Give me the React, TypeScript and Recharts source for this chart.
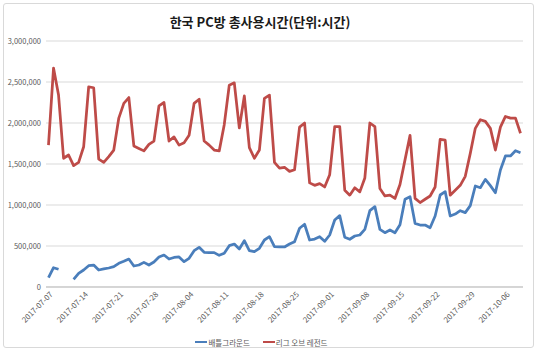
import React from 'react';
import { LineChart, Line, XAxis, YAxis, CartesianGrid, Legend } from 'recharts';

const dates = [
  '2017-07-07', '2017-07-08', '2017-07-09', '2017-07-10', '2017-07-11', '2017-07-12', '2017-07-13',
  '2017-07-14', '2017-07-15', '2017-07-16', '2017-07-17', '2017-07-18', '2017-07-19', '2017-07-20',
  '2017-07-21', '2017-07-22', '2017-07-23', '2017-07-24', '2017-07-25', '2017-07-26', '2017-07-27',
  '2017-07-28', '2017-07-29', '2017-07-30', '2017-07-31', '2017-08-01', '2017-08-02', '2017-08-03',
  '2017-08-04', '2017-08-05', '2017-08-06', '2017-08-07', '2017-08-08', '2017-08-09', '2017-08-10',
  '2017-08-11', '2017-08-12', '2017-08-13', '2017-08-14', '2017-08-15', '2017-08-16', '2017-08-17',
  '2017-08-18', '2017-08-19', '2017-08-20', '2017-08-21', '2017-08-22', '2017-08-23', '2017-08-24',
  '2017-08-25', '2017-08-26', '2017-08-27', '2017-08-28', '2017-08-29', '2017-08-30', '2017-08-31',
  '2017-09-01', '2017-09-02', '2017-09-03', '2017-09-04', '2017-09-05', '2017-09-06', '2017-09-07',
  '2017-09-08', '2017-09-09', '2017-09-10', '2017-09-11', '2017-09-12', '2017-09-13', '2017-09-14',
  '2017-09-15', '2017-09-16', '2017-09-17', '2017-09-18', '2017-09-19', '2017-09-20', '2017-09-21',
  '2017-09-22', '2017-09-23', '2017-09-24', '2017-09-25', '2017-09-26', '2017-09-27', '2017-09-28',
  '2017-09-29', '2017-09-30', '2017-10-01', '2017-10-02', '2017-10-03', '2017-10-04', '2017-10-05',
  '2017-10-06', '2017-10-07', '2017-10-08', '2017-10-09',
];

const battlegrounds: (number | null)[] = [
  113000, 235000, 216000, null, null, 94000, 167000,
  207000, 260000, 268000, 207000, 220000, 232000, 248000,
  289000, 313000, 341000, 256000, 268000, 300000, 268000,
  305000, 365000, 390000, 341000, 360000, 366000, 309000,
  350000, 443000, 484000, 423000, 419000, 419000, 386000,
  411000, 504000, 524000, 463000, 565000, 443000, 431000,
  472000, 573000, 614000, 492000, 488000, 488000, 524000,
  553000, 716000, 765000, 573000, 585000, 614000, 557000,
  634000, 817000, 870000, 606000, 582000, 622000, 634000,
  703000, 931000, 980000, 703000, 662000, 695000, 662000,
  760000, 1070000, 1100000, 776000, 756000, 756000, 723000,
  866000, 1122000, 1163000, 866000, 890000, 931000, 907000,
  992000, 1232000, 1211000, 1313000, 1236000, 1150000, 1427000,
  1598000, 1598000, 1662000, 1638000,
];

const leagueOfLegends: number[] = [
  1730000, 2670000, 2340000, 1570000, 1610000, 1480000, 1520000,
  1710000, 2440000, 2430000, 1560000, 1520000, 1590000, 1670000,
  2060000, 2240000, 2310000, 1720000, 1690000, 1660000, 1740000,
  1780000, 2210000, 2250000, 1780000, 1830000, 1730000, 1760000,
  1850000, 2240000, 2290000, 1780000, 1730000, 1670000, 1660000,
  1980000, 2460000, 2490000, 1940000, 2330000, 1700000, 1570000,
  1670000, 2300000, 2340000, 1520000, 1450000, 1460000, 1410000,
  1430000, 1950000, 2000000, 1270000, 1240000, 1260000, 1220000,
  1370000, 1955000, 1955000, 1180000, 1120000, 1210000, 1160000,
  1330000, 2000000, 1955000, 1200000, 1110000, 1120000, 1080000,
  1250000, 1550000, 1850000, 1080000, 1030000, 1070000, 1110000,
  1220000, 1800000, 1790000, 1120000, 1180000, 1240000, 1350000,
  1630000, 1935000, 2040000, 2020000, 1935000, 1670000, 1950000,
  2080000, 2060000, 2060000, 1875000,
];

const yTicks = [0, 500000, 1000000, 1500000, 2000000, 2500000, 3000000];
const seriesNames = ['배틀그라운드', '리그 오브 레전드'];
const title = '한국 PC방 총사용시간(단위:시간)';

const BLUE = '#4a7ebb';
const RED = '#be4b48';
const FONT = '"Noto Sans CJK KR", "Noto Sans", sans-serif';

const data = dates.map((d, i) => ({
  date: d,
  battlegrounds: battlegrounds[i],
  lol: leagueOfLegends[i],
}));

const XTick = (props: any) => {
  const { x, y, payload } = props;
  return (
    <g transform={`translate(${x + 3},${y + 6})`}>
      <text
        transform="rotate(-45)"
        textAnchor="end"
        dy="0.35em"
        fontSize={7.8}
        fill="#595959"
        fontFamily={FONT}
      >
        {payload.value}
      </text>
    </g>
  );
};

const LegendContent = () => (
  <div
    style={{
      display: 'flex',
      justifyContent: 'center',
      alignItems: 'center',
      height: 20,
      fontFamily: FONT,
      fontSize: 7.5,
      color: '#595959',
    }}
  >
    <span style={{ display: 'inline-block', width: 12, height: 2, background: BLUE, marginRight: 1 }} />
    <span style={{ marginRight: 13 }}>{seriesNames[0]}</span>
    <span style={{ display: 'inline-block', width: 12, height: 2, background: RED, marginRight: 1 }} />
    <span>{seriesNames[1]}</span>
  </div>
);

export default function App() {
  return (
    <div style={{ position: 'absolute', left: 0, top: 0, width: 540, height: 352, background: '#fff' }}>
      <div
        style={{
          position: 'absolute',
          left: 3,
          top: 3,
          width: 531,
          height: 345,
          border: '1px solid #d9d9d9',
          borderRadius: 3,
          boxSizing: 'border-box',
        }}
      />
      <div
        style={{
          position: 'absolute',
          left: 0,
          top: 13,
          width: 520,
          textAlign: 'center',
          fontFamily: FONT,
          fontSize: 13,
          fontWeight: 'bold',
          color: '#1a1a1a',
          lineHeight: '18px',
        }}
      >
        {title}
      </div>
      <div style={{ position: 'absolute', left: 0, top: 0 }}>
        <LineChart width={540} height={352} data={data} margin={{ top: 41, right: 17, left: 0, bottom: 0 }}>
          <CartesianGrid vertical={false} stroke="#d9d9d9" />
          <XAxis
            dataKey="date"
            interval={6}
            tick={<XTick />}
            tickLine={false}
            tickSize={0}
            tickMargin={0}
            height={45}
            axisLine={{ stroke: '#bfbfbf' }}
            padding={{ left: 2.5, right: 2.5 }}
          />
          <YAxis
            domain={[0, 3000000]}
            ticks={yTicks}
            interval={0}
            tickFormatter={(v: number) => v.toLocaleString('en-US')}
            axisLine={false}
            tickLine={false}
            tickSize={0}
            tickMargin={5}
            width={46}
            tick={{ fontSize: 7.5, fill: '#595959', fontFamily: FONT }}
          />
          <Legend verticalAlign="bottom" content={<LegendContent />} wrapperStyle={{ height: 20 }} />
          <Line
            type="linear"
            dataKey="battlegrounds"
            name={seriesNames[0]}
            stroke={BLUE}
            strokeWidth={2.75}
            dot={false}
            activeDot={false}
            strokeLinejoin="round"
            isAnimationActive={false}
          />
          <Line
            type="linear"
            dataKey="lol"
            name={seriesNames[1]}
            stroke={RED}
            strokeWidth={2.75}
            dot={false}
            activeDot={false}
            strokeLinejoin="round"
            isAnimationActive={false}
          />
        </LineChart>
      </div>
    </div>
  );
}
